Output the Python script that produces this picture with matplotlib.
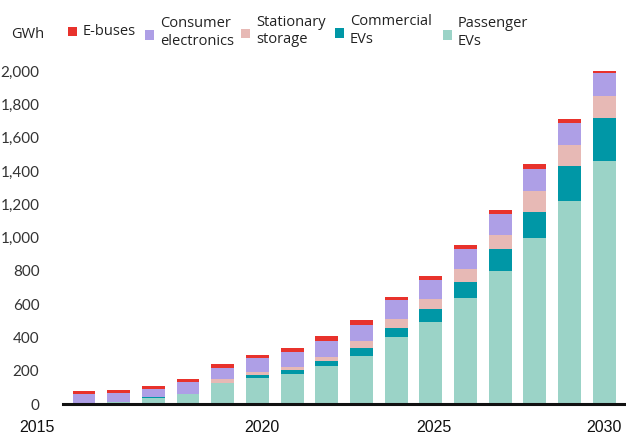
import matplotlib
matplotlib.use("Agg")
import matplotlib.pyplot as plt
from matplotlib.patches import Rectangle
import numpy as np

years = list(range(2015, 2031))
passenger_evs = [0, 12, 38, 60, 126, 154, 182, 228, 288, 404, 492, 634, 798, 994, 1222, 1460]
commercial_evs = [0, 0, 2, 0, 0, 20, 22, 30, 46, 52, 80, 98, 130, 158, 206, 256]
stationary_storage = [0, 0, 0, 0, 24, 20, 18, 26, 46, 54, 58, 80, 86, 126, 130, 134]
consumer_electronics = [60, 55, 48, 70, 68, 80, 88, 96, 96, 116, 112, 116, 126, 136, 132, 140]
e_buses = [20, 20, 20, 20, 20, 20, 28, 28, 28, 18, 26, 26, 24, 26, 22, 10]

series_names = ["Passenger\nEVs", "Commercial\nEVs", "Stationary\nstorage",
                "Consumer\nelectronics", "E-buses"]
series_colors = ["#9BD3C7", "#0097A6", "#E7B9B5", "#AE9FE6", "#E8322C"]
series_values = [passenger_evs, commercial_evs, stationary_storage,
                 consumer_electronics, e_buses]

y_ticks = [0, 200, 400, 600, 800, 1000, 1200, 1400, 1600, 1800, 2000]
x_label_years = [2015, 2020, 2025, 2030]

W, H = 626, 437
fig = plt.figure(figsize=(W / 100, H / 100), dpi=100)
ax = fig.add_axes([63 / W, (H - 404) / H, (625 - 63) / W, (404 - 71) / H])

x = np.arange(len(years))
bottom = np.zeros(len(years))
for vals, col in zip(series_values, series_colors):
    v = np.array(vals, dtype=float)
    ax.bar(x, v, bottom=bottom, width=0.66, color=col, linewidth=0,
           clip_on=False, zorder=2)
    bottom += v

ax.set_xlim(-0.605, 15.6)
ax.set_ylim(0, 2000)
for s in ["top", "right", "left"]:
    ax.spines[s].set_visible(False)
ax.spines["bottom"].set_linewidth(2.2)
ax.spines["bottom"].set_color("#111111")
ax.spines["bottom"].set_zorder(3)

ax.set_yticks(y_ticks)
ax.set_yticklabels([f"{t:,}" for t in y_ticks], family="Lato", fontsize=11,
                   color="#333333")
ax.tick_params(axis="y", length=0, pad=17)
ax.set_xticks([])

# year labels under the axis; the first one sits left of its bar
label_offsets = {2015: -1.35, 2020: 0.12, 2025: 0.09, 2030: 0.0}
for yr in x_label_years:
    pos = years.index(yr) + label_offsets[yr]
    ax.text(pos, -0.072, str(yr), transform=ax.get_xaxis_transform(),
            ha="center", va="center", family="Liberation Sans", fontsize=11.5,
            color="#111111", clip_on=False)

# unit label and legend row across the top
fig.text(11 / W, 1 - 35 / H, "GWh", family="Open Sans", fontsize=10.5,
         color="#222222", va="center", ha="left")

legend_items = [
    ("E-buses", series_colors[4], 68, 31.5, 83),
    ("Consumer\nelectronics", series_colors[3], 145, 35, 160),
    ("Stationary\nstorage", series_colors[2], 241, 33.5, 256),
    ("Commercial\nEVs", series_colors[1], 335, 33, 350),
    ("Passenger\nEVs", series_colors[0], 443, 35, 458),
]
for label, col, mx, my, tx in legend_items:
    fig.patches.append(Rectangle((mx / W, 1 - (my + 4.5) / H), 9 / W, 9 / H,
                                 transform=fig.transFigure, color=col,
                                 linewidth=0))
    ty = my if "\n" not in label else my - 2.5
    fig.text(tx / W, 1 - ty / H, label, family="Open Sans", fontsize=10.5,
             color="#222222", va="center", ha="left", linespacing=1.25)

fig.savefig("out.png", dpi=100)
